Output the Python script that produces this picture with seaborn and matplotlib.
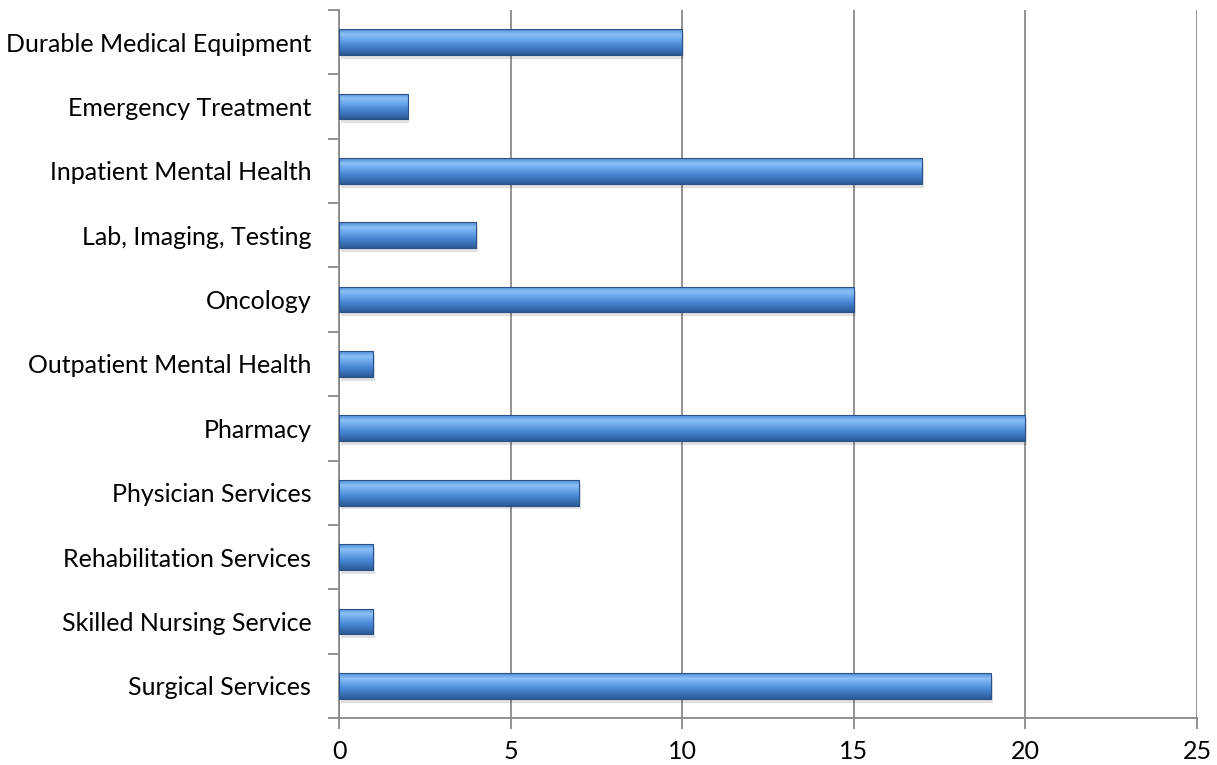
import numpy as np
import pandas as pd
import seaborn as sns
import matplotlib.pyplot as plt
from matplotlib.colors import LinearSegmentedColormap

# Service categories and counts
categories = [
    "Durable Medical Equipment",
    "Emergency Treatment",
    "Inpatient Mental Health",
    "Lab, Imaging, Testing",
    "Oncology",
    "Outpatient Mental Health",
    "Pharmacy",
    "Physician Services",
    "Rehabilitation Services",
    "Skilled Nursing Service",
    "Surgical Services",
]
counts = [10, 2, 17, 4, 15, 1, 20, 7, 1, 1, 19]
x_ticks = [0, 5, 10, 15, 20, 25]

df = pd.DataFrame({"category": categories, "count": counts})

sns.set_style("white")
plt.rcParams["font.family"] = ["Lato", "DejaVu Sans"]

fig = plt.figure(figsize=(12.17, 7.65), dpi=100)
ax = fig.add_axes([0.2786, 0.0614, 0.7050, 0.9256])

sns.barplot(data=df, x="count", y="category", orient="h", width=0.4,
            color="#4a86d0", ax=ax, zorder=3)

# vertical gradient over each bar, clipped to the bar shape
grad = LinearSegmentedColormap.from_list(
    "bar", ["#2c5a94", "#3b74bb", "#4c8ad6", "#6aa6ea", "#8cc0f5", "#4f8cd6"])
g = np.linspace(0, 1, 64).reshape(-1, 1)
for bar in ax.patches:
    x0, y0 = bar.get_x(), bar.get_y()
    w, h = bar.get_width(), bar.get_height()
    # soft drop shadow
    ax.add_patch(plt.Rectangle((x0 + 0.05, y0 + 0.06), w, h, color="#000000",
                               alpha=0.12, lw=0, zorder=2))
    im = ax.imshow(g, cmap=grad, aspect="auto", origin="lower",
                   extent=(x0, x0 + w, y0 + h, y0), zorder=4)
    im.set_clip_path(bar)
    bar.set_edgecolor("#2a5288")
    bar.set_linewidth(0.8)
    bar.set_zorder(5)
    bar.set_facecolor("none")

ax.set_xlim(0, 25)
ax.set_ylim(len(categories) - 0.5, -0.5)
ax.set_xticks(x_ticks)
ax.set_xlabel("")
ax.set_ylabel("")

ax.xaxis.grid(True, color="#8a8a8a", linewidth=1.3, zorder=0)
ax.set_axisbelow(True)

for side in ["top", "right"]:
    ax.spines[side].set_visible(False)
for side in ["left", "bottom"]:
    ax.spines[side].set_color("#8a8a8a")
    ax.spines[side].set_linewidth(1.3)

ax.set_yticks(np.arange(-0.5, len(categories), 1.0), minor=True)
ax.tick_params(axis="y", which="major", length=0, pad=20, labelsize=18,
               labelcolor="black", left=True)
ax.tick_params(axis="y", which="minor", length=8, width=1.3, color="#8a8a8a",
               direction="out", left=True)
ax.tick_params(axis="x", length=8, width=1.3, color="#8a8a8a", bottom=True,
               direction="out", labelsize=18, labelcolor="black", pad=8)

fig.savefig("out.png", dpi=100)
